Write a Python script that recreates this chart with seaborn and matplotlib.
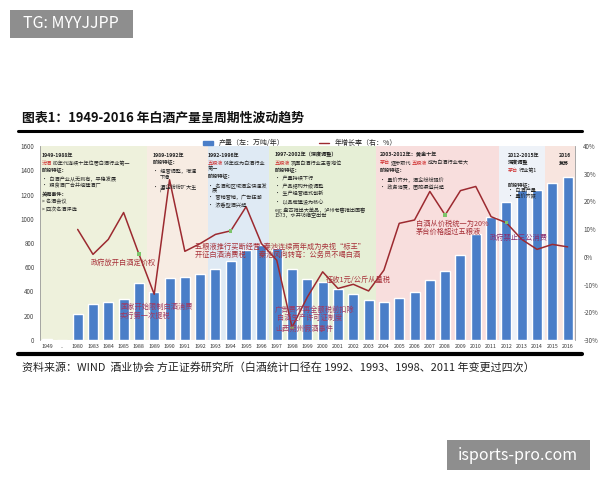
import numpy as np
import pandas as pd
import seaborn as sns
import matplotlib.pyplot as plt
from matplotlib.patches import Patch, Rectangle
from matplotlib.lines import Line2D

# ---- data ----
years = ["1949", "..", "1980", "1983", "1984", "1985", "1988", "1989", "1990", "1991",
         "1992", "1993", "1994", "1995", "1996", "1997", "1998", "1999", "2000", "2001",
         "2002", "2003", "2004", "2005", "2006", "2007", "2008", "2009", "2010", "2011",
         "2012", "2013", "2014", "2015", "2016"]
output = [10, 0, 215, 293, 310, 337, 467, 398, 510, 521,
          541, 587, 650, 741, 782, 760, 582, 500, 475, 420,
          379, 332, 310, 348, 398, 494, 570, 705, 878, 1015,
          1138, 1240, 1240, 1295, 1344]
growth = [np.nan, np.nan, 9.9, 0.9, 6.3, 16.0, 1.0, -13.5, 27.8, 2.0,
          4.8, 8.1, 9.4, 18.1, 4.8, -1.2, -25.4, -14.5, -5.4, -11.4,
          -9.9, -12.3, -4.8, 12.1, 13.3, 23.6, 15.1, 23.9, 25.4, 14.5,
          12.3, 6.3, 2.7, 4.5, 3.6]
marked_years = ["1988", "1994", "1998", "2008", "2012"]

# shaded periods: first year, last year, colour
period_start = ["1949", "1989", "1993", "1997", "2004", "2012", "2015"]
period_end = ["1988", "1992", "1996", "2003", "2011", "2014", "2016"]
period_color = ["#eef1dc", "#f7ece3", "#dfeaf4", "#e6efd6", "#f8dedd", "#eef2f8", "#f8e5df"]

df = pd.DataFrame({"year": years, "output": output, "growth": growth})
df["pos"] = np.arange(len(df))

W, H = 600, 480


def px(x, y):
    return x / W, 1 - y / H


sns.set_style("white")
plt.rcParams["font.family"] = ["Noto Sans CJK SC", "DejaVu Sans"]

fig = plt.figure(figsize=(6, 4.8), dpi=100)
ax = fig.add_axes([40 / W, 1 - 340 / H, 535 / W, 194 / H])

# period backgrounds
idx = {y: i for i, y in enumerate(years)}
for s, e, c in zip(period_start, period_end, period_color):
    ax.axvspan(idx[s] - 0.5, idx[e] + 0.5, color=c, lw=0, zorder=0)

sns.barplot(data=df, x="year", y="output", order=years, color="#4a7ec8",
            width=0.65, saturation=1, ax=ax, zorder=2)
ax.set_xlim(-0.46, 34.48)
ax.set_ylim(0, 1600)
ax.set_yticks(range(0, 1601, 200))
ax.tick_params(axis="y", labelsize=4.5, colors="#444444", length=0, pad=4)
ax.tick_params(axis="x", labelsize=3.8, colors="#333333", length=0, pad=3)
ax.set_xlabel("")
ax.set_ylabel("")
for sp in ["top", "right", "bottom"]:
    ax.spines[sp].set_visible(False)
ax.spines["left"].set_color("#999999")
ax.spines["left"].set_linewidth(0.6)

ax2 = ax.twinx()
sns.lineplot(data=df, x="pos", y="growth", color="#9c2a30", lw=1.1, ax=ax2, zorder=3)
mk = df[df["year"].isin(marked_years)]
sns.scatterplot(data=mk, x="pos", y="growth", color="#7cc46a", marker="s", s=6,
                edgecolor="none", ax=ax2, zorder=4)
ax2.set_xlim(-0.46, 34.48)
ax2.set_ylim(-30, 40)
ax2.set_yticks(range(-30, 41, 10))
ax2.set_yticklabels([f"{v}%" for v in range(-30, 41, 10)])
ax2.tick_params(axis="y", labelsize=4.5, colors="#444444", length=0, pad=6)
ax2.set_xlabel("")
ax2.set_ylabel("")
for sp in ["top", "left", "bottom"]:
    ax2.spines[sp].set_visible(False)
ax2.spines["right"].set_color("#999999")
ax2.spines["right"].set_linewidth(0.6)

# legend
handles = [Patch(color="#4a7ec8"), Line2D([0], [0], color="#9c2a30", lw=1)]
fig.legend(handles, ["产量（左：万吨/年）", "年增长率（右：%）"], loc="center",
           bbox_to_anchor=px(300, 143), ncol=2, frameon=False, fontsize=5,
           columnspacing=5, handlelength=1.5, handleheight=0.5)

# title, rules and source
fig.text(*px(22, 118), "图表1：1949-2016 年白酒产量呈周期性波动趋势", fontsize=9.3,
         va="center", ha="left", color="#111111", fontweight="bold")
fig.add_artist(plt.Line2D([18 / W, 582 / W], [1 - 131 / H] * 2, color="black", lw=2.2))
fig.add_artist(plt.Line2D([18 / W, 582 / W], [1 - 354 / H] * 2, color="black", lw=3))
fig.text(*px(22, 367), "资料来源：WIND  酒业协会 方正证券研究所（白酒统计口径在 1992、1993、1998、2011 年变更过四次）",
         fontsize=7.9, va="center", ha="left", color="#222222")

# period notes
dark = "#222222"
red = "#d03030"
fs = 3.7


def note(x, y, s, color=dark, bold=False, size=fs):
    fig.text(*px(x, y), s, fontsize=size, color=color, va="center", ha="left",
             fontweight="bold" if bold else "normal")


note(42, 155, "1949-1988年", bold=True)
note(42, 163, "汾酒", red)
note(53, 163, "80年代连续十年位居白酒行业第一")
note(42, 171, "阶段特征：", bold=True)
note(42, 179, "•  白酒产业从无到有，平稳发展")
note(42, 186, "•  粮食酒厂合并组建酒厂")
note(42, 194, "关键事件：", bold=True)
note(42, 202, "> 名酒会议")
note(42, 210, "> 四次名酒评选")

note(153, 155, "1989-1992年", bold=True)
note(153, 163, "阶段特征：", bold=True)
note(153, 172, "•  经营调整，增速")
note(160, 177, "下滑")
note(153, 186, "•  酒企纷纷扩大生")
note(160, 191, "产")

note(208, 155, "1992-1996年", bold=True)
note(208, 163, "五粮液", red)
note(224, 163, "94年成为白酒行业")
note(208, 169, "第一")
note(208, 177, "阶段特征：", bold=True)
note(208, 185, "•  名酒和区域酒企快速发")
note(212, 190, "展")
note(208, 198, "•  营销营销，广告狂潮")
note(208, 206, "•  浓香型酒兴起")

note(275, 155, "1997-2002年（深度调整）", bold=True)
note(275, 163, "五粮液", red)
note(291, 163, "巩固白酒行业王者地位")
note(275, 171, "阶段特征：", bold=True)
note(275, 179, "•  产量持续下行")
note(275, 187, "•  产品结构升级调整")
note(275, 194, "•  生产经营模式创新")
note(275, 202, "•  以品牌建设为核心")
note(275, 210, "eg: 盘古推出大单品，泸州老窖推出国窖")
note(275, 216, "1573，水井坊横空出世")

note(380, 155, "2003-2012年：黄金十年", bold=True)
note(380, 163, "茅台", red)
note(391, 163, "逐步取代")
note(412, 163, "五粮液", red)
note(428, 163, "成为白酒行业老大")
note(380, 171, "阶段特征：", bold=True)
note(380, 179, "•  量价齐升，酒企纷纷提价")
note(380, 187, "•  政务消费，团购渠道兴起")

note(508, 155, "2012-2015年", bold=True)
note(508, 163, "深度调整", bold=True)
note(508, 171, "茅台", red)
note(519, 171, "行业第1")
note(508, 186, "阶段特征：", bold=True)
note(508, 191, "•  白酒产量")
note(508, 197, "•  量价齐跌")

note(559, 155, "2016", bold=True)
note(559, 163, "复苏", bold=True)

# event notes inside the plot
ev = "#a8323a"
pur = "#a03a62"
efs = 5.2
note(91, 263, "政府放开白酒定价权", ev, size=efs)
note(120, 307, "国家开始限制白酒消费", pur, size=efs)
note(120, 316, "实行第一次提税", pur, size=efs)
note(195, 247, "五粮液推行买断经营  秦池连续两年成为央视“标王”", ev, size=efs)
note(195, 255, "开征白酒消费税        秦池风向转弯：公务员不喝白酒", ev, size=efs)
note(326, 280, "征收1元/公斤从量税", ev, size=efs)
note(275, 310, "广告费不再全额税前扣除", pur, size=efs)
note(277, 318, "白酒生产许可证制度", pur, size=efs)
note(275, 329, "山西朔州假酒事件", pur, size=efs)
note(416, 224, "白酒从价税统一为20%", ev, size=efs)
note(416, 232, "茅台价格超过五粮液", ev, size=efs)
note(490, 238, "政府禁止三公消费", "#8a2f70", size=efs)

# watermark boxes
fig.add_artist(Rectangle(px(10, 38), 123 / W, 28 / H, transform=fig.transFigure,
                         fc="#8e8e8e", ec="none"))
fig.text(*px(71, 24), "TG: MYYJJPP", fontsize=11.5, color="white", ha="center", va="center")
fig.add_artist(Rectangle(px(447, 470), 143 / W, 30 / H, transform=fig.transFigure,
                         fc="#8e8e8e", ec="none"))
fig.text(*px(518, 455), "isports-pro.com", fontsize=11.5, color="white", ha="center", va="center")

fig.savefig("out.png", dpi=100, facecolor="white")
plt.close()
